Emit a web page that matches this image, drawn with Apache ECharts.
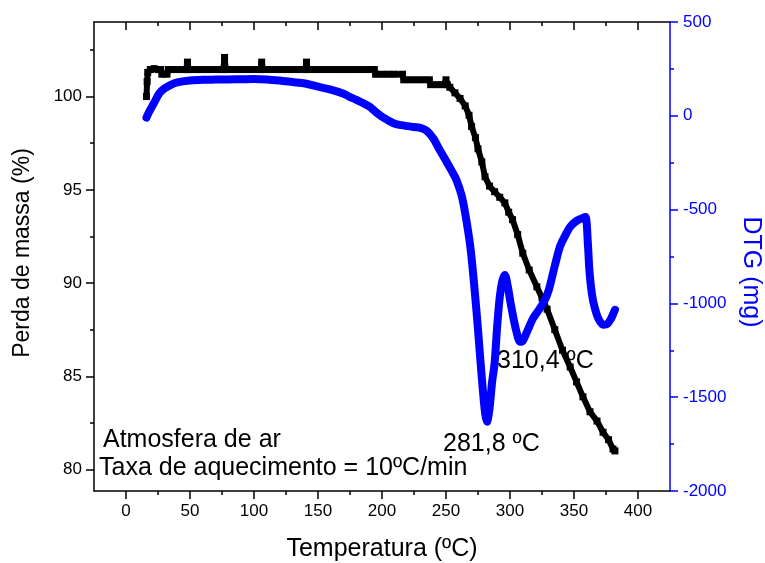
<!DOCTYPE html>
<html>
<head>
<meta charset="utf-8">
<script src="https://cdn.jsdelivr.net/npm/echarts@6/dist/echarts.min.js"></script>
<style>
  html, body { margin: 0; padding: 0; background: #fff; }
  #chart { width: 765px; height: 563px; }
</style>
</head>
<body>
<div id="chart"></div>
<script>
// mass loss curve (TG)
var massTemp = [16, 16.5, 17, 19, 22, 25, 27, 28, 32, 33, 36, 40, 45, 47, 48, 49, 52, 57, 62, 67, 72, 76, 77, 78,
  82, 87, 92, 97, 102, 105, 106, 107, 112, 117, 122, 127, 132, 137, 140, 141, 142, 147, 152, 157, 162, 167,
  172, 177, 182, 187, 192, 194, 195, 200, 205, 210, 216, 217, 222, 227, 232, 237, 238, 243, 248, 250, 251,
  253, 257, 261, 265, 268, 270, 273, 275, 278, 280.5, 284, 288, 292, 296, 299, 302, 306, 310, 315, 321, 325,
  329, 335, 341, 347, 352, 357, 362.5, 368, 372.7, 377, 380.5, 382];
var massPct = [100.0, 100.8, 101.3, 101.45, 101.5, 101.45, 101.45, 101.2, 101.2, 101.45, 101.45, 101.45, 101.45, 101.45, 101.85, 101.45, 101.45, 101.45, 101.45, 101.45, 101.45, 101.45, 102.1, 101.45,
  101.45, 101.45, 101.45, 101.45, 101.45, 101.45, 101.85, 101.45, 101.45, 101.45, 101.45, 101.45, 101.45, 101.45, 101.45, 101.85, 101.45, 101.45, 101.45, 101.45, 101.45, 101.45,
  101.45, 101.45, 101.45, 101.45, 101.45, 101.45, 101.2, 101.2, 101.2, 101.2, 101.2, 100.9, 100.9, 100.9, 100.9, 100.9, 100.64, 100.64, 100.64, 100.9, 100.64,
  100.5, 100.2, 99.9, 99.5, 99.0, 98.4, 97.8, 97.2, 96.5, 95.7, 95.2, 94.9, 94.6, 94.3, 93.8, 93.4, 92.6, 91.6, 90.7, 89.8, 89.2,
  88.6, 87.5, 86.4, 85.5, 84.7, 83.9, 83.1, 82.6, 82.0, 81.6, 81.1, 81.0];

// derivative curve (DTG)
var dtgTemp = [16, 18, 22, 26, 30, 35, 40, 50, 60, 70, 80, 90, 100, 110, 120, 130, 140, 150, 160, 170, 175, 180,
  190, 195, 200, 205, 210, 215, 220, 225, 230, 235, 240, 245, 250, 255, 258, 262, 265, 269, 272, 275, 278,
  280.5, 282, 284, 286, 288, 290, 292, 294, 296, 298, 301, 305, 308, 310, 314, 318, 322, 326, 329, 331, 335,
  339, 343, 347, 352, 357, 359, 361, 362, 364, 366, 369, 373, 376, 379, 381, 382];
var dtgMg = [-10, 20, 70, 120, 145, 165, 178, 188, 192, 193, 194, 195, 196, 194, 188, 180, 172, 155, 140, 118, 100, 85,
  50, 21, -5, -25, -42, -50, -55, -60, -64, -80, -120, -181, -240, -300, -340, -420, -520, -698, -900, -1140, -1400,
  -1583, -1631, -1560, -1420, -1317, -1120, -965, -880, -848, -900, -1018, -1150, -1205, -1200, -1140, -1080, -1040, -997, -954, -911, -800,
  -698, -640, -592, -560, -544, -540, -700, -821, -950, -1018, -1080, -1114, -1110, -1080, -1050, -1034];

var xMajor = [0, 50, 100, 150, 200, 250, 300, 350, 400];
var xMinor = [25, 75, 125, 175, 225, 275, 325, 375];
var yMajor = [80, 85, 90, 95, 100];
var yMinor = [82.5, 87.5, 92.5, 97.5, 102.5];

var FONT = '"Liberation Sans", Arial, sans-serif';

function zip(a, b) {
  return a.map(function (v, i) { return [v, b[i]]; });
}

var chart = echarts.init(document.getElementById('chart'));

var blackLine = { show: true, onZero: false, lineStyle: { color: '#000', width: 1.5 } };
var noLine = { show: false, onZero: false };

function xAx(pos, ticks, len, inside, withLine, labels) {
  return {
    type: 'value', position: pos, min: -25, max: 425,
    axisLine: withLine ? blackLine : noLine,
    splitLine: { show: false },
    axisTick: { show: true, inside: inside, length: len, customValues: ticks, lineStyle: { color: '#000', width: 1.5 } },
    axisLabel: labels ? { show: true, customValues: ticks, color: '#000', fontSize: 17, fontFamily: FONT, margin: 12 } : { show: false }
  };
}

chart.setOption({
  animation: false,
  backgroundColor: '#fff',
  grid: { left: 94, right: 95, top: 22, bottom: 72, containLabel: false },
  xAxis: [
    xAx('bottom', xMajor, 8, false, true, true),
    xAx('bottom', xMinor, 4, false, false, false),
    xAx('top', xMajor, 8, true, true, false),
    xAx('top', xMinor, 4, true, false, false)
  ],
  yAxis: [
    {
      type: 'value', position: 'left', min: 78.85, max: 104,
      axisLine: blackLine, splitLine: { show: false },
      axisTick: { show: true, length: 8, customValues: yMajor, lineStyle: { color: '#000', width: 1.5 } },
      axisLabel: { customValues: yMajor, color: '#000', fontSize: 17, fontFamily: FONT, margin: 12 }
    },
    {
      type: 'value', position: 'left', min: 78.85, max: 104,
      axisLine: noLine, splitLine: { show: false },
      axisTick: { show: true, length: 4, customValues: yMinor, lineStyle: { color: '#000', width: 1.5 } },
      axisLabel: { show: false }
    },
    {
      type: 'value', position: 'right', min: -2000, max: 500, interval: 500,
      axisLine: { show: true, onZero: false, lineStyle: { color: '#0000ff', width: 1.5 } },
      splitLine: { show: false },
      axisTick: { show: true, length: 8, lineStyle: { color: '#0000ff', width: 1.5 } },
      minorTick: { show: true, splitNumber: 2, length: 4, lineStyle: { color: '#0000ff', width: 1.5 } },
      axisLabel: { color: '#0000ff', fontSize: 17, fontFamily: FONT, margin: 13,
        formatter: function (v) { return String(v); } }
    }
  ],
  graphic: [
    { type: 'text', x: 23, y: 253, rotation: Math.PI / 2,
      style: { text: 'Perda de massa (%)', font: '23px ' + FONT, fill: '#000', textAlign: 'center', textVerticalAlign: 'middle' } },
    { type: 'text', x: 751, y: 272, rotation: -Math.PI / 2,
      style: { text: 'DTG (mg)', font: '25px ' + FONT, fill: '#0000ff', textAlign: 'center', textVerticalAlign: 'middle' } },
    { type: 'text', x: 382, y: 549,
      style: { text: 'Temperatura (ºC)', font: '25px ' + FONT, fill: '#000', textAlign: 'center', textVerticalAlign: 'middle' } },
    { type: 'text', x: 103, y: 440,
      style: { text: 'Atmosfera de ar', font: '25px ' + FONT, fill: '#000', textAlign: 'left', textVerticalAlign: 'middle' } },
    { type: 'text', x: 99, y: 468,
      style: { text: 'Taxa de aquecimento = 10ºC/min', font: '25px ' + FONT, fill: '#000', textAlign: 'left', textVerticalAlign: 'middle' } },
    { type: 'text', x: 443, y: 444,
      style: { text: '281,8 ºC', font: '25px ' + FONT, fill: '#000', textAlign: 'left', textVerticalAlign: 'middle' } },
    { type: 'text', x: 497, y: 361,
      style: { text: '310,4 ºC', font: '25px ' + FONT, fill: '#000', textAlign: 'left', textVerticalAlign: 'middle' } }
  ],
  series: [
    {
      name: 'TG', type: 'line', xAxisIndex: 0, yAxisIndex: 0,
      data: zip(massTemp, massPct),
      symbol: 'rect', symbolSize: 7, showSymbol: true,
      itemStyle: { color: '#000' },
      lineStyle: { color: '#000', width: 6 },
      z: 2
    },
    {
      name: 'DTG', type: 'line', xAxisIndex: 0, yAxisIndex: 2,
      data: zip(dtgTemp, dtgMg),
      smooth: 0.3, showSymbol: false,
      lineStyle: { color: '#0000ff', width: 8, cap: 'round', join: 'round' },
      z: 3
    }
  ]
});
</script>
</body>
</html>
